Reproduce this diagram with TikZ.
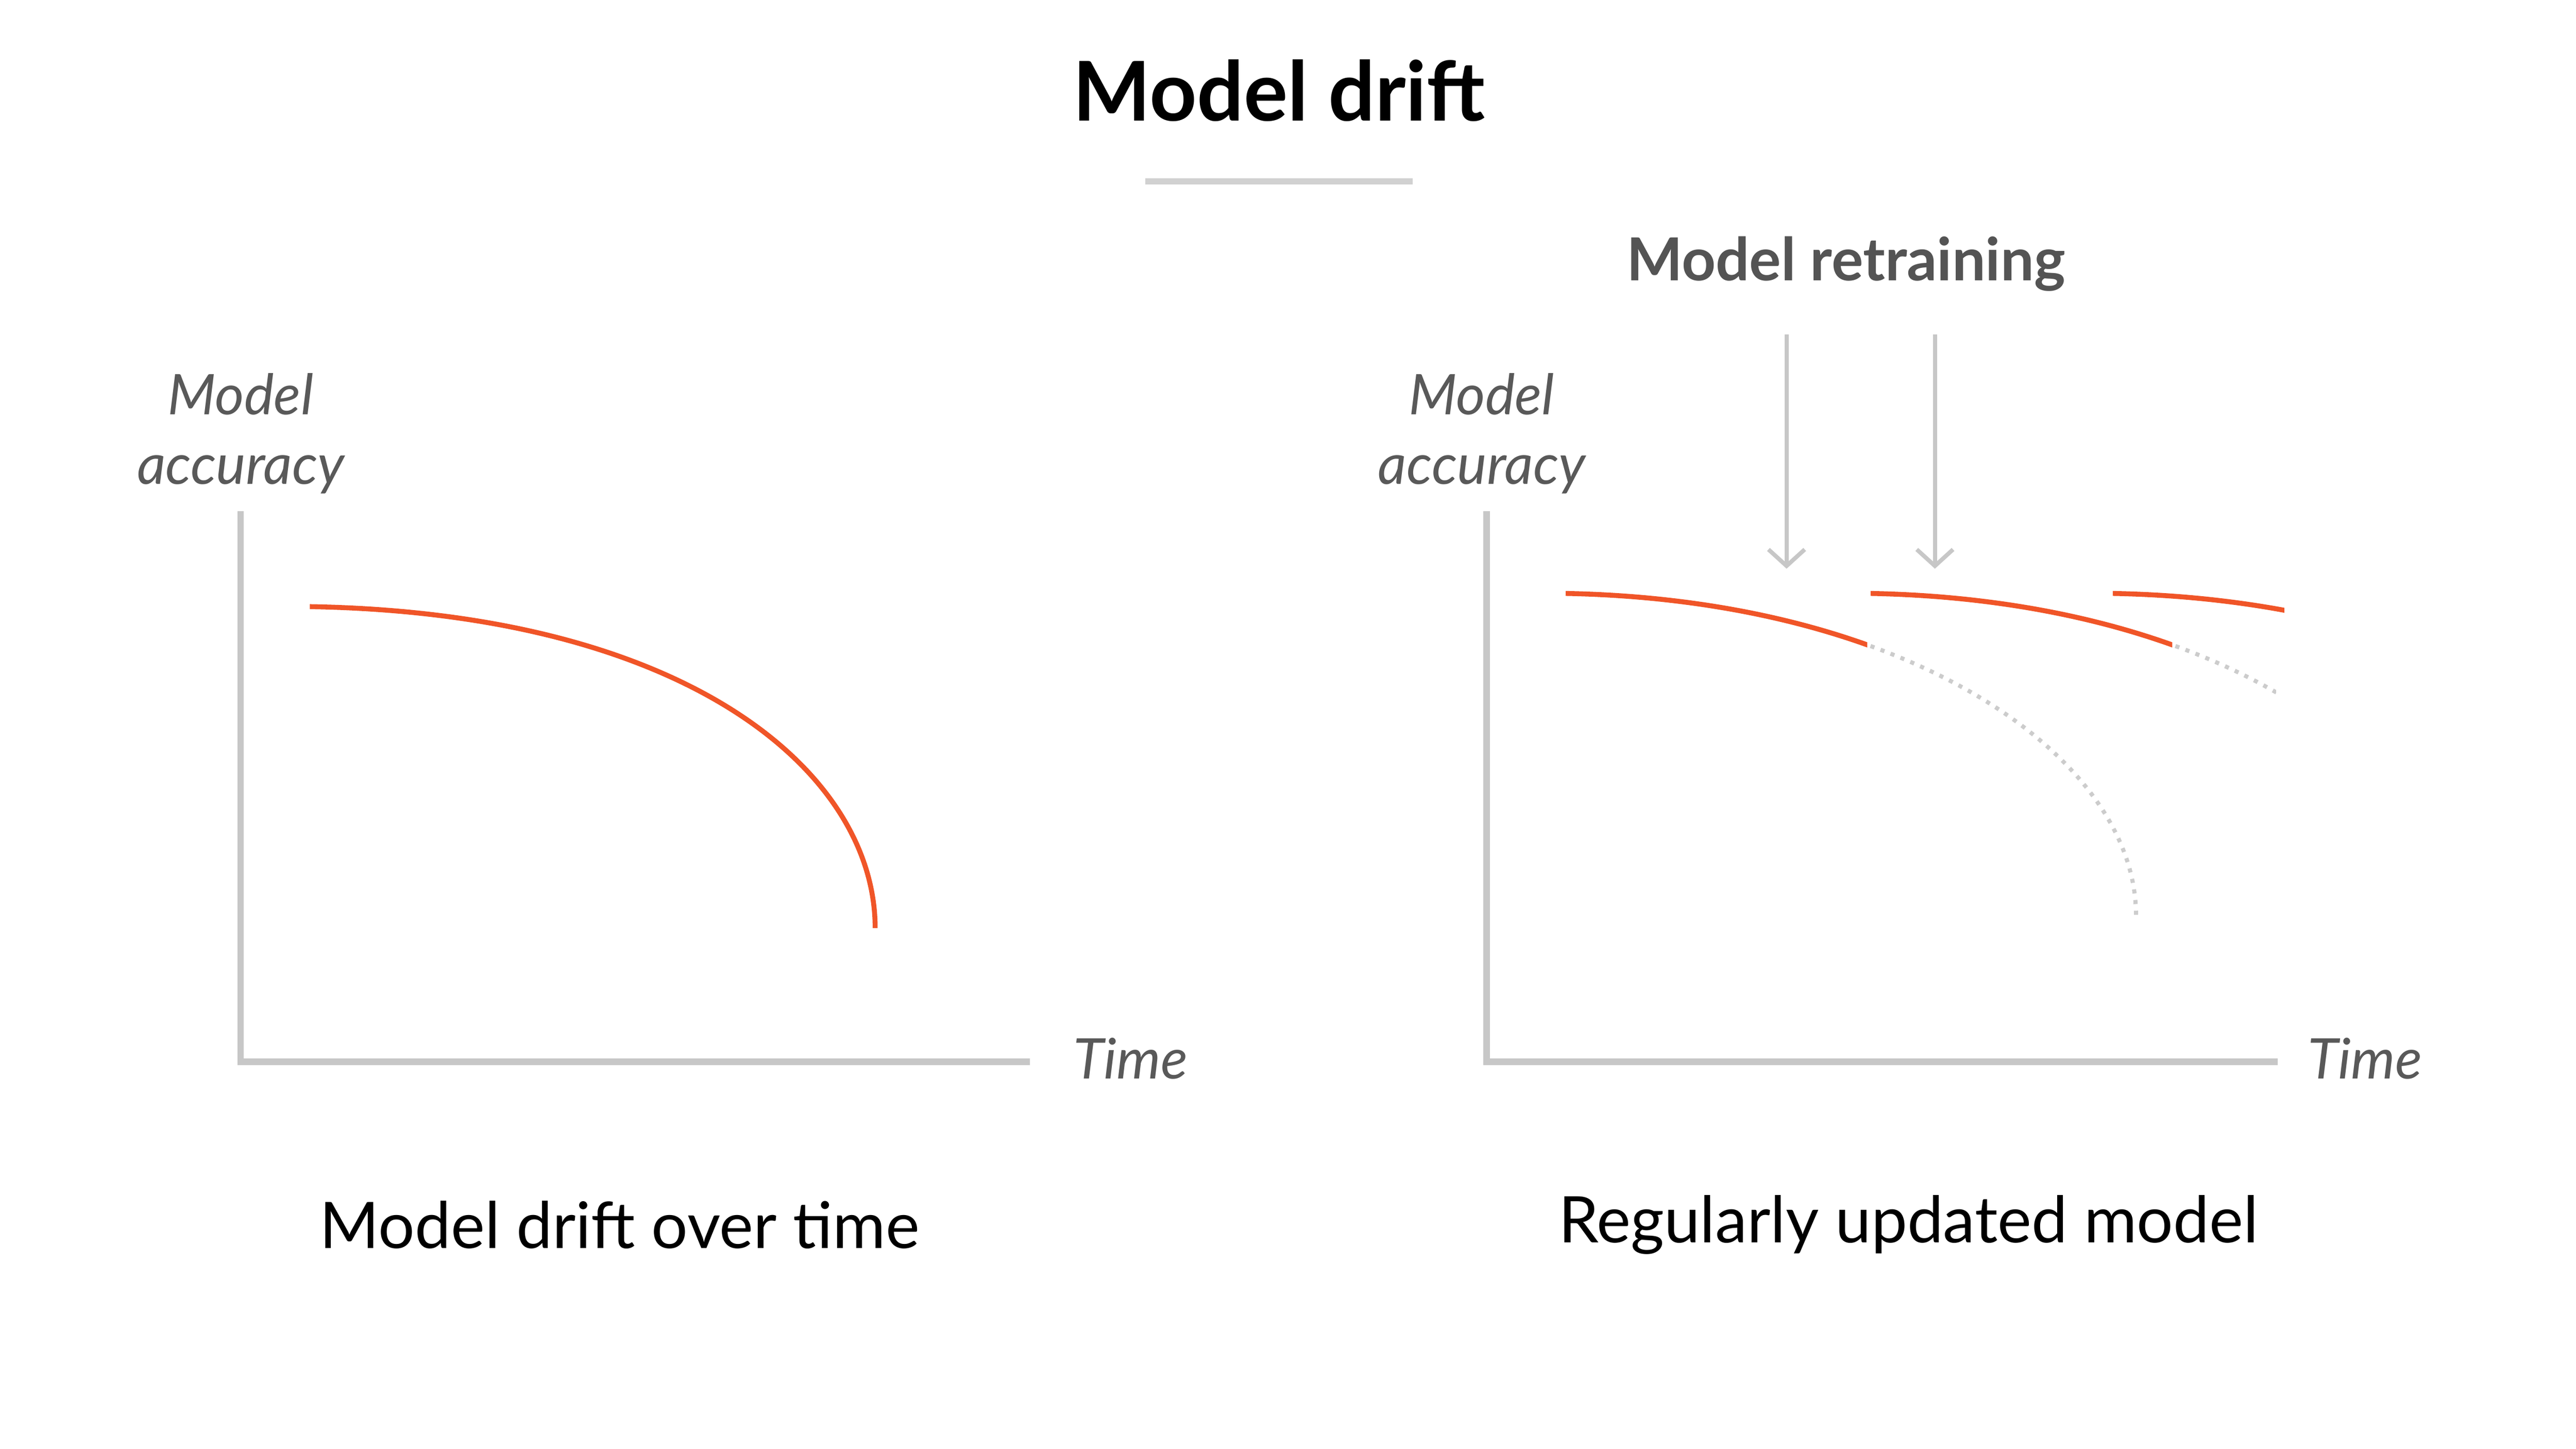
\documentclass[tikz,border=0pt]{standalone}
\usepackage{fontspec}
\setmainfont{Lato}
\usetikzlibrary{arrows.meta}
\begin{document}
\begin{tikzpicture}[x=1pt,y=-1pt,
  axis/.style={draw=black!22,line width=4pt},
  drift/.style={line width=3pt,draw={rgb,255:red,240;green,85;blue,40}},
  ghost/.style={draw=black!20,line width=2.5pt,dash pattern=on 2.5pt off 4pt},
  lbl/.style={font=\fontsize{34}{42}\selectfont\itshape,text=black!65,align=center},
  captxt/.style={font=\fontsize{39}{46}\selectfont}]
\useasboundingbox (0,0) rectangle (1563,879);
\node[font=\fontsize{50}{58}\selectfont\bfseries] (title) at (776,55) {Model drift};
\draw[draw=black!18,line width=3.5pt] (695,110) -- (857,110);
% left
\draw[axis] (146,310) -- (146,644) -- (625,644);
\node[lbl] (ya) at (146,263) {Model\\accuracy};
\node[lbl] (xa) at (686,642) {Time};
\draw[drift] (188,368) .. controls (420,372) and (531,470) .. (531,563);
\node[captxt] (c1) at (376,743) {Model drift over time};
% right
\draw[axis] (902,310) -- (902,644) -- (1382,644);
\node[lbl] (yb) at (899,263) {Model\\accuracy};
\node[lbl] (xb) at (1435,642) {Time};
\node[font=\fontsize{36}{42}\selectfont\bfseries,text=black!67] (rt) at (1120,160) {Model retraining};
\foreach \x in {1084,1174}
  \draw[draw=black!22,line width=2.5pt,-{Straight Barb[length=10pt,width=22pt]}] (\x,203) -- (\x,345);
% segment 1
\begin{scope}\clip (1133,300) rectangle (1400,600);
\draw[ghost] (950,360) .. controls (1160,364) and (1296,460) .. (1296,555);\end{scope}
\begin{scope}\clip (900,300) rectangle (1133,600);
\draw[drift] (950,360) .. controls (1160,364) and (1296,460) .. (1296,555);\end{scope}
% segment 2
\begin{scope}\clip (1318,300) rectangle (1381,600);
\draw[ghost] (1135,360) .. controls (1345,364) and (1481,460) .. (1481,555);\end{scope}
\begin{scope}\clip (1100,300) rectangle (1318,600);
\draw[drift] (1135,360) .. controls (1345,364) and (1481,460) .. (1481,555);\end{scope}
% segment 3
\begin{scope}\clip (1270,300) rectangle (1386,600);
\draw[drift] (1282,360) .. controls (1492,364) and (1628,460) .. (1628,555);\end{scope}
\node[captxt] (c2) at (1158,743) {Regularly updated model};
\end{tikzpicture}
\end{document}
